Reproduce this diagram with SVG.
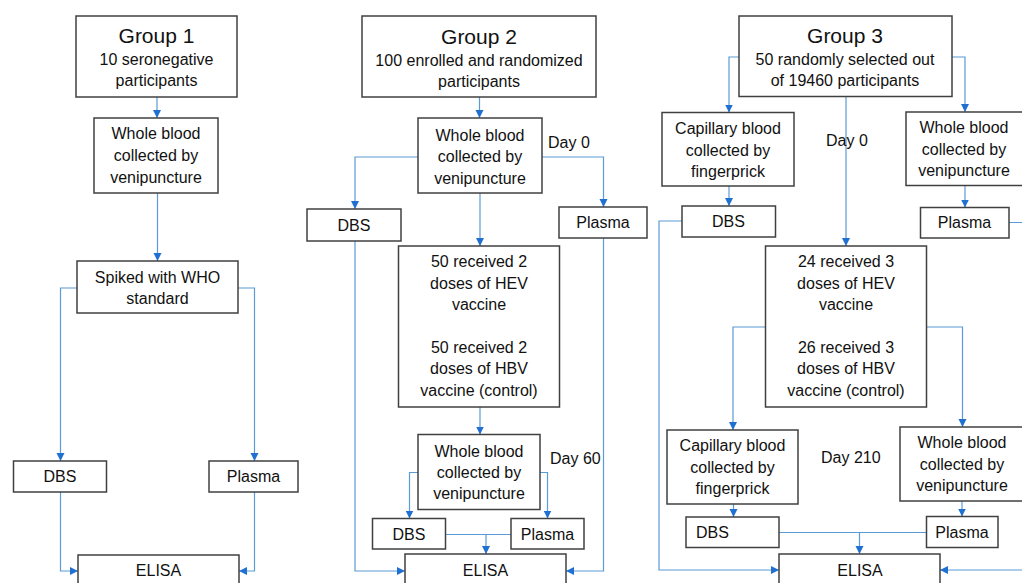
<svg xmlns="http://www.w3.org/2000/svg" width="1022" height="583" viewBox="0 0 1022 583">
<style>
.b{fill:#fff;stroke:#404040;stroke-width:1.5}
.t{font-family:"Liberation Sans",Arial,sans-serif;font-size:16px;fill:#111;text-anchor:middle}
.h{font-size:21px}
.l{text-anchor:start}
.c{fill:none;stroke:#5B9BD5;stroke-width:1.2}
.a{marker-end:url(#ar)}
</style>
<defs>
<marker id="ar" markerUnits="userSpaceOnUse" markerWidth="9" markerHeight="9" refX="8" refY="4.5" orient="auto">
<path d="M0,0.5 L8,4.5 L0,8.5 z" fill="#1F70D0"/>
</marker>
</defs>
<rect width="1022" height="583" fill="#fff"/>
<g id="connectors">
<path class="c a" d="M157,97 V118"/>
<path class="c a" d="M157.5,193 V261"/>
<path class="c a" d="M77,288 H60.5 V461"/>
<path class="c a" d="M238,288 H254.5 V461"/>
<path class="c a" d="M60.5,492 V571 H78"/>
<path class="c a" d="M254.5,492 V571 H239"/>
<path class="c a" d="M479.5,97 V118"/>
<path class="c a" d="M418,157 H355 V209"/>
<path class="c a" d="M542,157 H603.5 V207"/>
<path class="c a" d="M480,193 V246"/>
<path class="c a" d="M480,407 V434.5"/>
<path class="c a" d="M418,472.5 H409.5 V518.5"/>
<path class="c a" d="M540,472.5 H547.5 V518.5"/>
<path class="c" d="M445.5,534.5 H511"/>
<path class="c a" d="M486,534.5 V554"/>
<path class="c a" d="M355,241 V571 H405"/>
<path class="c a" d="M603.5,238 V571 H566"/>
<path class="c a" d="M739,57 H729 V112.5"/>
<path class="c a" d="M952,57 H965 V112"/>
<path class="c a" d="M846,96.5 V246"/>
<path class="c a" d="M729,186 V206"/>
<path class="c a" d="M682,221 H659 V570 H779"/>
<path class="c a" d="M965,185.5 V207.5"/>
<path class="c a" d="M1009,222.5 H1030 V570 H940"/>
<path class="c a" d="M765.5,327 H733 V430"/>
<path class="c a" d="M926.5,327 H962.5 V427"/>
<path class="c a" d="M733.5,504 V517"/>
<path class="c a" d="M962,501 V516.5"/>
<path class="c" d="M779,532.5 H926.5"/>
<path class="c a" d="M859.5,532.5 V554"/>
</g>
<g id="g1-title"><rect class="b" x="76" y="16" width="161" height="81"/>
<text class="t h" x="156.5" y="42.5">Group 1</text>
<text class="t" x="156.5" y="65">10 seronegative</text>
<text class="t" x="156.5" y="86">participants</text></g>
<g id="g1-whole"><rect class="b" x="94" y="118" width="124" height="75"/>
<text class="t" x="156" y="139">Whole blood</text>
<text class="t" x="156" y="161">collected by</text>
<text class="t" x="156" y="183">venipuncture</text></g>
<g id="g1-spiked"><rect class="b" x="77" y="261" width="161" height="52"/>
<text class="t" x="157.5" y="283">Spiked with WHO</text>
<text class="t" x="157.5" y="304">standard</text></g>
<g id="g1-dbs"><rect class="b" x="13.5" y="461" width="93" height="31"/>
<text class="t" x="60" y="482">DBS</text></g>
<g id="g1-plasma"><rect class="b" x="209" y="461" width="89" height="31"/>
<text class="t" x="253.5" y="482">Plasma</text></g>
<g id="g1-elisa"><rect class="b" x="78" y="555" width="161" height="40"/>
<text class="t" x="158.5" y="576">ELISA</text></g>

<g id="g2-title"><rect class="b" x="362" y="16" width="234" height="81"/>
<text class="t h" x="479" y="43.5">Group 2</text>
<text class="t" x="479" y="65.5">100 enrolled and randomized</text>
<text class="t" x="479" y="86.5">participants</text></g>
<g id="g2-whole0"><rect class="b" x="418" y="118" width="124" height="75"/>
<text class="t" x="480" y="140.5">Whole blood</text>
<text class="t" x="480" y="162">collected by</text>
<text class="t" x="480" y="183.5">venipuncture</text></g>
<text class="t l" x="548" y="147.5">Day 0</text>
<g id="g2-dbs0"><rect class="b" x="307" y="209" width="94" height="32"/>
<text class="t" x="354" y="231">DBS</text></g>
<g id="g2-plasma0"><rect class="b" x="559" y="207" width="88" height="31"/>
<text class="t" x="603" y="228">Plasma</text></g>
<g id="g2-vaccine"><rect class="b" x="398.5" y="246" width="161" height="161"/>
<text class="t" x="479" y="267">50 received 2</text>
<text class="t" x="479" y="289">doses of HEV</text>
<text class="t" x="479" y="310">vaccine</text>
<text class="t" x="479" y="353">50 received 2</text>
<text class="t" x="479" y="374">doses of HBV</text>
<text class="t" x="479" y="395.5">vaccine (control)</text></g>
<g id="g2-whole60"><rect class="b" x="418" y="434.5" width="122" height="75"/>
<text class="t" x="479" y="456.5">Whole blood</text>
<text class="t" x="479" y="478">collected by</text>
<text class="t" x="479" y="499">venipuncture</text></g>
<text class="t l" x="550" y="464">Day 60</text>
<g id="g2-dbs60"><rect class="b" x="372.5" y="518.5" width="73" height="30.5"/>
<text class="t" x="409" y="539.5">DBS</text></g>
<g id="g2-plasma60"><rect class="b" x="511" y="518.5" width="73" height="30.5"/>
<text class="t" x="547.5" y="539.5">Plasma</text></g>
<g id="g2-elisa"><rect class="b" x="405" y="554" width="161" height="40"/>
<text class="t" x="485.5" y="576">ELISA</text></g>

<g id="g3-title"><rect class="b" x="739" y="16" width="213" height="80.5"/>
<text class="t h" x="845" y="42.5">Group 3</text>
<text class="t" x="845" y="65">50 randomly selected out</text>
<text class="t" x="845" y="86">of 19460 participants</text></g>
<g id="g3-cap0"><rect class="b" x="662" y="112.5" width="132" height="73.5"/>
<text class="t" x="728" y="134">Capillary blood</text>
<text class="t" x="728" y="155.5">collected by</text>
<text class="t" x="728" y="176.5">fingerprick</text></g>
<g id="g3-whole0"><rect class="b" x="906" y="112" width="130" height="73.5"/>
<text class="t" x="964" y="133">Whole blood</text>
<text class="t" x="964" y="155">collected by</text>
<text class="t" x="964" y="176">venipuncture</text></g>
<text class="t l" x="826" y="145.5">Day 0</text>
<g id="g3-dbs0"><rect class="b" x="682" y="206" width="93.5" height="31"/>
<text class="t" x="728.5" y="226.5">DBS</text></g>
<g id="g3-plasma0"><rect class="b" x="920.5" y="207.5" width="88.5" height="30.5"/>
<text class="t" x="964.5" y="228">Plasma</text></g>
<g id="g3-vaccine"><rect class="b" x="765.5" y="246" width="161" height="161"/>
<text class="t" x="846" y="267">24 received 3</text>
<text class="t" x="846" y="289">doses of HEV</text>
<text class="t" x="846" y="310">vaccine</text>
<text class="t" x="846" y="353">26 received 3</text>
<text class="t" x="846" y="374">doses of HBV</text>
<text class="t" x="846" y="395.5">vaccine (control)</text></g>
<g id="g3-cap210"><rect class="b" x="667" y="430" width="131" height="74"/>
<text class="t" x="732.5" y="451">Capillary blood</text>
<text class="t" x="732.5" y="472.5">collected by</text>
<text class="t" x="732.5" y="494">fingerprick</text></g>
<text class="t l" x="821" y="462.5">Day 210</text>
<g id="g3-whole210"><rect class="b" x="900" y="427" width="130" height="74"/>
<text class="t" x="962" y="448">Whole blood</text>
<text class="t" x="962" y="470">collected by</text>
<text class="t" x="962" y="491">venipuncture</text></g>
<g id="g3-dbs210"><rect class="b" x="686" y="517" width="93" height="30.5"/>
<text class="t l" x="696" y="538">DBS</text></g>
<g id="g3-plasma210"><rect class="b" x="926.5" y="516.5" width="71.5" height="31"/>
<text class="t" x="962" y="537.5">Plasma</text></g>
<g id="g3-elisa"><rect class="b" x="779" y="554" width="161" height="40"/>
<text class="t" x="860" y="576">ELISA</text></g>
</svg>
